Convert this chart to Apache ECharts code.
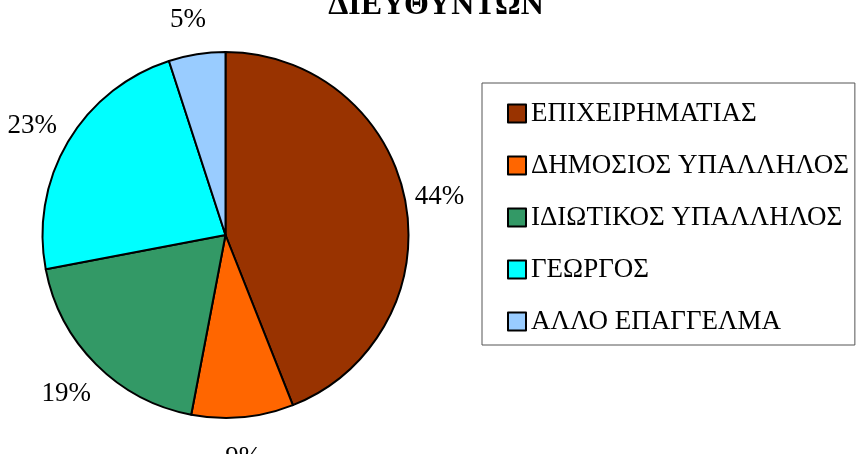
<!DOCTYPE html>
<html>
<head>
<meta charset="utf-8">
<script src="https://cdn.jsdelivr.net/npm/echarts@6/dist/echarts.min.js"></script>
<style>
html,body{margin:0;padding:0;background:#fff;}
#chart{width:856px;height:454px;}
</style>
</head>
<body>
<div id="chart"></div>
<script>
// slices, clockwise from 12 o'clock
var categories = ['ΕΠΙΧΕΙΡΗΜΑΤΙΑΣ', 'ΔΗΜΟΣΙΟΣ ΥΠΑΛΛΗΛΟΣ', 'ΙΔΙΩΤΙΚΟΣ ΥΠΑΛΛΗΛΟΣ', 'ΓΕΩΡΓΟΣ', 'ΑΛΛΟ ΕΠΑΓΓΕΛΜΑ']
var shares = [44, 9, 19, 23, 5]
var colors = ['#993300', '#FF6600', '#339966', '#00FFFF', '#99CCFF']

var pieData = categories.map(function (name, i) {
  return { name: name, value: shares[i] }
})

var serif = '"Liberation Serif", "DejaVu Serif", serif'

var chart = echarts.init(document.getElementById('chart'))
chart.setOption({
  animation: false,
  color: colors,
  title: {
    text: 'ΔΙΕΥΘΥΝΤΩΝ',
    left: 436,
    top: -10,
    textAlign: 'center',
    padding: 0,
    textStyle: { fontFamily: serif, fontSize: 32, fontWeight: 'bold', color: '#000' }
  },
  legend: {
    orient: 'vertical',
    left: 482,
    top: 83,
    padding: [17, 6, 10, 25],
    itemGap: 25,
    itemWidth: 18,
    itemHeight: 18,
    icon: 'rect',
    borderColor: '#555',
    borderWidth: 1,
    backgroundColor: '#fff',
    itemStyle: { borderColor: '#000', borderWidth: 2 },
    textStyle: { fontFamily: serif, fontSize: 27, lineHeight: 27, color: '#000' },
    data: categories
  },
  series: [
    {
      name: 'pie',
      type: 'pie',
      center: [225.5, 235],
      radius: [0, 183],
      startAngle: 90,
      clockwise: true,
      itemStyle: { borderColor: '#000', borderWidth: 2 },
      label: { show: false },
      labelLine: { show: false },
      emphasis: { disabled: true },
      data: pieData
    },
    {
      // invisible ring only used to centre the % labels outside the pie
      name: 'labels',
      type: 'pie',
      center: [225.5, 235],
      radius: [183, 253],
      startAngle: 90,
      clockwise: true,
      silent: true,
      legendHoverLink: false,
      itemStyle: { color: 'rgba(0,0,0,0)', borderWidth: 0 },
      label: {
        show: true,
        position: 'inside',
        formatter: '{c}%',
        offset: [-3, 3],
        fontFamily: serif,
        fontSize: 27,
        color: '#000'
      },
      labelLine: { show: false },
      emphasis: { disabled: true },
      data: pieData
    }
  ]
})
</script>
</body>
</html>
